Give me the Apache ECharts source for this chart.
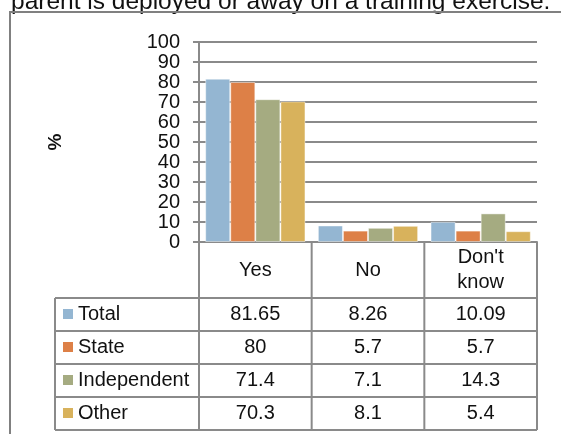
<!DOCTYPE html>
<html>
<head>
<meta charset="UTF-8">
<title>Deployment chart</title>
<script src="https://cdn.jsdelivr.net/npm/echarts@6/dist/echarts.min.js"></script>
<style>
  html, body { margin: 0; padding: 0; background: #fff; }
  #main { width: 561px; height: 434px; }
</style>
</head>
<body>
<div id="main"></div>
<script>
// data
var categories = ['Yes', 'No', "Don't\nknow"];
var seriesNames = ['Total', 'State', 'Independent', 'Other'];
var total = [81.65, 8.26, 10.09];
var state = [80, 5.7, 5.7];
var independent = [71.4, 7.1, 14.3];
var other = [70.3, 8.1, 5.4];

var colors = ['#94B6D2', '#DD8047', '#A5AB81', '#D8B25C'];
var values = [total, state, independent, other];

var chart = echarts.init(document.getElementById('main'));

// plot area
var gl = 199, gt = 42, gw = 338, gh = 200;
var font = 'Liberation Sans, Arial, sans-serif';
var lineCol = '#8a8a8a';

// data table below the axis
var tableLeft = 55, rowTop = 298, rowH = 33;
var tableBottom = rowTop + rowH * seriesNames.length;
var colW = gw / categories.length;
var tableEls = [];
for (var r = 0; r < seriesNames.length; r++) {
    var y0 = rowTop + r * rowH;
    tableEls.push({
        type: 'rect', shape: { x: 63, y: y0 + 11, width: 10, height: 10 },
        style: { fill: colors[r] }
    });
    tableEls.push({
        type: 'text', x: 78, y: y0 + rowH / 2,
        style: { text: seriesNames[r], font: '20px ' + font, fill: '#111', verticalAlign: 'middle' }
    });
    for (var c = 0; c < categories.length; c++) {
        tableEls.push({
            type: 'text', x: gl + (c + 0.5) * colW, y: y0 + rowH / 2,
            style: { text: String(values[r][c]), font: '20px ' + font, fill: '#111', align: 'center', verticalAlign: 'middle' }
        });
    }
}
// horizontal rules
for (var r = 0; r <= seriesNames.length; r++) {
    var yy = rowTop + r * rowH;
    tableEls.push({
        type: 'line', shape: { x1: tableLeft, y1: yy, x2: gl + gw, y2: yy },
        style: { stroke: lineCol, lineWidth: 2 }
    });
}
// vertical rules: category columns run up to the axis, the legend column only spans the data rows
for (var c = 0; c <= categories.length; c++) {
    var x = gl + c * colW;
    tableEls.push({
        type: 'line', shape: { x1: x, y1: gt + gh, x2: x, y2: tableBottom },
        style: { stroke: lineCol, lineWidth: 2 }
    });
}
tableEls.push({
    type: 'line', shape: { x1: tableLeft, y1: rowTop, x2: tableLeft, y2: tableBottom },
    style: { stroke: lineCol, lineWidth: 2 }
});

var option = {
    animation: false,
    grid: { left: gl, top: gt, width: gw, height: gh },
    xAxis: {
        type: 'category',
        data: categories,
        axisLine: { lineStyle: { color: lineCol, width: 2 } },
        axisTick: { show: false },
        axisLabel: {
            margin: 28, verticalAlign: 'middle', lineHeight: 25,
            fontFamily: font, fontSize: 20, color: '#111'
        }
    },
    yAxis: {
        type: 'value',
        min: 0, max: 100, interval: 10,
        name: '%',
        nameLocation: 'middle',
        nameGap: 134,
        nameRotate: 90,
        nameTextStyle: { fontFamily: font, fontSize: 19, color: '#111', fontWeight: 'bold' },
        axisLine: { show: true, lineStyle: { color: lineCol, width: 2 } },
        axisTick: { show: true, length: 6, lineStyle: { color: lineCol, width: 2 } },
        axisLabel: { margin: 19, fontFamily: font, fontSize: 20, color: '#111' },
        splitLine: { lineStyle: { color: lineCol, width: 2 } }
    },
    graphic: [
        {
            type: 'text', x: 11, y: 15,
            style: { text: 'parent is deployed or away on a training exercise.', font: '24.5px ' + font, fill: '#111', verticalAlign: 'bottom' }
        },
        {
            type: 'rect', shape: { x: 10, y: 12, width: 600, height: 500 },
            style: { fill: 'none', stroke: '#808080', lineWidth: 2 }
        },
        { type: 'group', children: tableEls }
    ],
    series: seriesNames.map(function (n, i) {
        return {
            name: n,
            type: 'bar',
            data: values[i],
            barGap: '0%',
            barCategoryGap: '11%',
            itemStyle: { color: colors[i], borderColor: 'rgba(255,255,255,0.45)', borderWidth: 1 }
        };
    })
};

chart.setOption(option);
</script>
</body>
</html>
